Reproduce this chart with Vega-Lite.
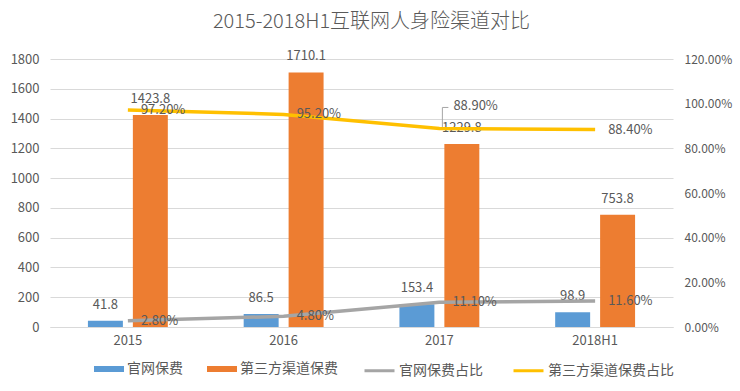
{
  "$schema": "https://vega.github.io/schema/vega-lite/v6.json",
  "autosize": {"type": "none"},
  "width": 623,
  "height": 268,
  "padding": {"left": 50, "top": 59, "right": 67, "bottom": 64},
  "background": "white",
  "title": {
    "text": "2015-2018H1互联网人身险渠道对比",
    "font": "Noto Sans CJK SC",
    "fontSize": 20,
    "fontWeight": 300,
    "color": "#595959",
    "anchor": "middle",
    "dx": 10,
    "offset": 18
  },
  "config": {
    "view": {"stroke": null},
    "font": "Noto Sans CJK SC",
    "text": {"font": "Noto Sans CJK SC"}
  },
  "datasets": {
    "bars": [
      {"year": "2015", "series": "官网保费", "value": 41.8},
      {"year": "2015", "series": "第三方渠道保费", "value": 1423.8},
      {"year": "2016", "series": "官网保费", "value": 86.5},
      {"year": "2016", "series": "第三方渠道保费", "value": 1710.1},
      {"year": "2017", "series": "官网保费", "value": 153.4},
      {"year": "2017", "series": "第三方渠道保费", "value": 1229.8},
      {"year": "2018H1", "series": "官网保费", "value": 98.9},
      {"year": "2018H1", "series": "第三方渠道保费", "value": 753.8}
    ],
    "lines": [
      {"year": "2015", "series": "官网保费占比", "pct": 0.028},
      {"year": "2016", "series": "官网保费占比", "pct": 0.048},
      {"year": "2017", "series": "官网保费占比", "pct": 0.111},
      {"year": "2018H1", "series": "官网保费占比", "pct": 0.116},
      {"year": "2015", "series": "第三方渠道保费占比", "pct": 0.972},
      {"year": "2016", "series": "第三方渠道保费占比", "pct": 0.952},
      {"year": "2017", "series": "第三方渠道保费占比", "pct": 0.889},
      {"year": "2018H1", "series": "第三方渠道保费占比", "pct": 0.884}
    ]
  },
  "encoding": {
    "x": {
      "field": "year",
      "type": "nominal",
      "sort": ["2015", "2016", "2017", "2018H1"],
      "scale": {"paddingInner": 0.487, "paddingOuter": 0.2435},
      "axis": {
        "title": null,
        "labelAngle": 0,
        "labelFontSize": 13,
        "labelColor": "#595959",
        "labelPadding": 7,
        "ticks": false,
        "domainColor": "#D9D9D9",
        "domainWidth": 1
      }
    }
  },
  "layer": [
    {
      "data": {"name": "bars"},
      "encoding": {
        "xOffset": {
          "field": "series",
          "type": "nominal",
          "sort": ["官网保费", "第三方渠道保费"],
          "scale": {"paddingInner": 0.222, "paddingOuter": 0}
        },
        "y": {
          "field": "value",
          "type": "quantitative",
          "scale": {"domain": [0, 1800], "nice": false},
          "axis": {
            "orient": "left",
            "title": null,
            "format": "d",
            "values": [0, 200, 400, 600, 800, 1000, 1200, 1400, 1600, 1800],
            "labelFontSize": 13,
            "labelColor": "#595959",
            "labelPadding": 11,
            "ticks": false,
            "domain": false,
            "gridColor": "#D9D9D9",
            "gridWidth": 1
          }
        }
      },
      "layer": [
        {
          "mark": {"type": "bar"},
          "encoding": {
            "fill": {
              "field": "series",
              "type": "nominal",
              "sort": ["官网保费", "第三方渠道保费"],
              "scale": {"domain": ["官网保费", "第三方渠道保费"], "range": ["#5B9BD5", "#ED7D31"]},
              "legend": {
                "orient": "none",
                "legendX": 44,
                "legendY": 295,
                "direction": "horizontal",
                "title": null,
                "symbolType": "M-1,-0.2H1V0.2H-1Z",
                "symbolSize": 900,
                "symbolStrokeWidth": 0,
                "labelFontSize": 14,
                "labelColor": "#595959",
                "labelOffset": 3,
                "columnPadding": 24
              }
            }
          }
        },
        {
          "mark": {"type": "text", "baseline": "middle", "align": "center", "dy": -16, "fontSize": 13, "color": "#595959"},
          "encoding": {
            "text": {"field": "value", "type": "quantitative", "format": ".1f"}
          }
        }
      ]
    },
    {
      "data": {"name": "lines"},
      "encoding": {
        "y": {
          "field": "pct",
          "type": "quantitative",
          "scale": {"domain": [0, 1.2], "nice": false},
          "axis": {
            "orient": "right",
            "title": null,
            "values": [0, 0.2, 0.4, 0.6, 0.8, 1.0, 1.2],
            "format": ".2%",
            "labelFontSize": 12,
            "labelColor": "#595959",
            "labelPadding": 11,
            "ticks": false,
            "domain": false,
            "grid": false
          }
        }
      },
      "layer": [
        {
          "mark": {"type": "line", "strokeWidth": 3.5},
          "encoding": {
            "stroke": {
              "field": "series",
              "type": "nominal",
              "sort": ["官网保费占比", "第三方渠道保费占比"],
              "scale": {"domain": ["官网保费占比", "第三方渠道保费占比"], "range": ["#A5A5A5", "#FFC000"]},
              "legend": {
                "orient": "none",
                "legendX": 313,
                "legendY": 295,
                "direction": "horizontal",
                "title": null,
                "symbolType": "stroke",
                "symbolSize": 900,
                "symbolStrokeWidth": 3,
                "labelFontSize": 14,
                "labelColor": "#595959",
                "labelOffset": 3,
                "columnPadding": 24
              }
            }
          }
        },
        {
          "transform": [{"filter": "!(datum.year == '2017' && datum.series == '第三方渠道保费占比')"}],
          "mark": {"type": "text", "baseline": "middle", "align": "left", "dx": 13, "fontSize": 13, "color": "#595959"},
          "encoding": {
            "text": {"field": "pct", "type": "quantitative", "format": ".2%"}
          }
        },
        {
          "transform": [{"filter": "datum.year == '2017' && datum.series == '第三方渠道保费占比'"}],
          "mark": {"type": "text", "baseline": "middle", "align": "left", "dx": 14, "dy": -22, "fontSize": 13, "color": "#595959"},
          "encoding": {
            "text": {"field": "pct", "type": "quantitative", "format": ".2%"}
          }
        },
        {
          "transform": [{"filter": "datum.year == '2017' && datum.series == '第三方渠道保费占比'"}],
          "mark": {"type": "point", "shape": "M0.3,-0.15V-2.1H0.9", "size": 400, "filled": false, "stroke": "#A6A6A6", "strokeWidth": 1, "opacity": 1}
        }
      ]
    }
  ],
  "resolve": {"scale": {"y": "independent"}}
}
